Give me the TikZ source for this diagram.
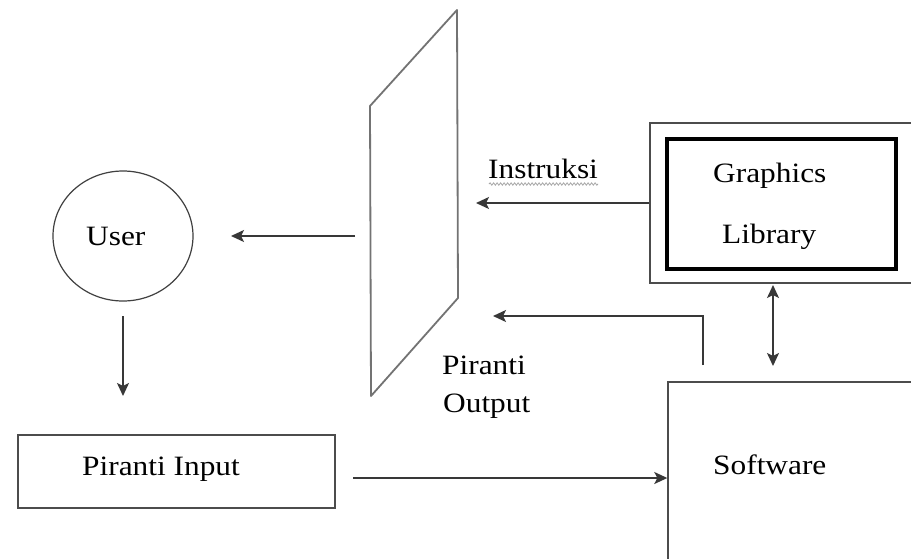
\documentclass[tikz,border=0pt]{standalone}
\usepackage{fontspec}
\setmainfont[FakeStretch=1.12]{Liberation Serif}
\usetikzlibrary{arrows.meta,decorations.pathmorphing,shapes.geometric}
\begin{document}
\begin{tikzpicture}[x=1pt,y=-1pt,
  line/.style={draw=black!78,line width=1.6pt},
  tip/.tip={Stealth[length=13pt,width=12pt,inset=3pt]},
  arr/.style={line,-tip},
  darr/.style={line,tip-tip},
  lbl/.style={anchor=base west,inner sep=0pt,text=black,font=\fontsize{28}{32}\selectfont},
  box/.style={draw=black!70,line width=1.4pt,inner sep=0pt}]
\clip (0,0) rectangle (911,558);
\fill[white] (0,0) rectangle (911,558);

% display screen (parallelogram)
\coordinate (p1) at (370,106);
\coordinate (p2) at (457,10);
\coordinate (p3) at (458,298);
\coordinate (p4) at (371,396);
\draw[draw=black!55,line width=1.8pt,line join=round] (p1) -- (p2) -- (p3) -- (p4) -- cycle;

% user
\node[ellipse,draw=black!75,line width=1.2pt,minimum width=140pt,minimum height=130pt,inner sep=0pt] (user) at (123,236) {};
\node[lbl] (usertxt) at (86,245) {User};

% piranti input
\node[box,minimum width=317pt,minimum height=73pt] (pin) at (176.5,471.5) {};
\node[lbl] (pintxt) at (82,475) {Piranti Input};

% graphics library
\node[box,minimum width=290pt,minimum height=160pt] (gout) at (795,203) {};
\node[draw=black,line width=3.2pt,minimum width=229pt,minimum height=130pt,inner sep=0pt] (gin) at (781.5,204) {};
\node[lbl] (gtxt) at (713,182) {Graphics};
\node[lbl] (ltxt) at (722,243) {Library};

% software
\node[box,minimum width=300pt,minimum height=230pt] (sw) at (818,497) {};
\node[lbl] (swtxt) at (713,474) {Software};

% labels
\node[lbl] (instxt) at (488,178) {Instruksi};
\node[lbl] (potxt1) at (442,374) {Piranti};
\node[lbl] (potxt2) at (443,412) {Output};
\coordinate (sq1) at (489,184);
\coordinate (sq2) at (598,184);
\draw[black!35,line width=0.8pt,decorate,decoration={snake,amplitude=1.2pt,segment length=3.5pt}] (sq1) -- (sq2);

% connectors
\coordinate (instend) at (476,203);
\draw[arr] (gout.west) -- (instend);

\coordinate (ustart) at (355,236);
\coordinate (uend) at (231,236);
\draw[arr] (ustart) -- (uend);

\coordinate (dstart) at (123,316);
\coordinate (dend) at (123,396);
\draw[arr] (dstart) -- (dend);

\coordinate (istart) at (353,478);
\draw[arr] (istart) -- (sw.west |- istart);

\coordinate (da1) at (773,285);
\coordinate (da2) at (773,366);
\draw[darr] (da1) -- (da2);

\coordinate (ostart) at (703,365);
\coordinate (oend) at (493,316);
\draw[arr] (ostart) |- (oend);
\end{tikzpicture}
\end{document}
